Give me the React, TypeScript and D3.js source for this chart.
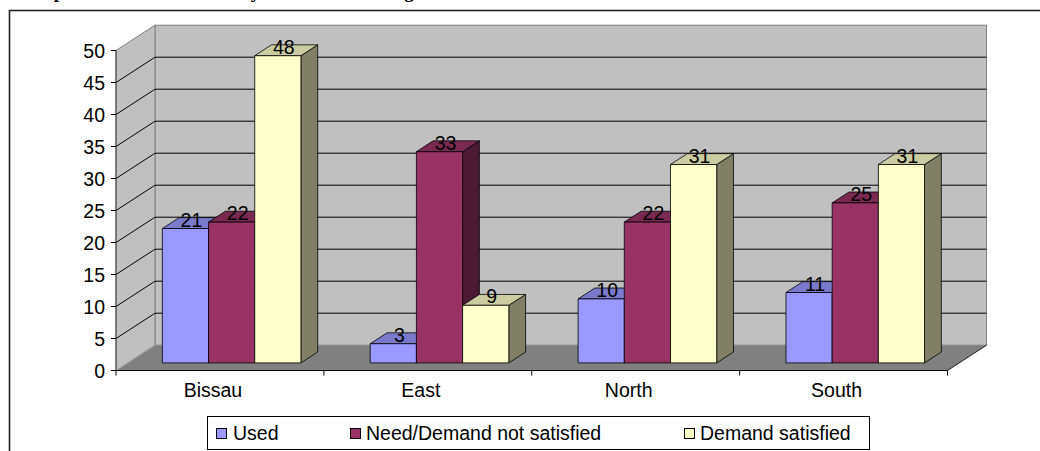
import React from "react";
import * as d3 from "d3";

// Chart data
const categories = ["Bissau", "East", "North", "South"];
const seriesNames = ["Used", "Need/Demand not satisfied", "Demand satisfied"];
const usedValues = [21, 3, 10, 11];
const notSatisfiedValues = [22, 33, 22, 25];
const satisfiedValues = [48, 9, 31, 31];
const seriesColors = ["#9999FF", "#993366", "#FFFFCC"];
const yTicks = [0, 5, 10, 15, 20, 25, 30, 35, 40, 45, 50];
const titleText = "Graph 4: Demand and use by administrative region";

const W = 1040;
const H = 451;

// Front plane of the 3D plot and the depth vector of the box
const X0 = 116;
const X1 = 947.5;
const Y0 = 370.5;
const YTOP = 50.5;
const DX = 39;
const DY = 25.3;
// Bars sit between these depth fractions of the box
const D0 = 0.3;
const BD = 0.43;

const FONT = "'Liberation Sans', Arial, sans-serif";

function shade(c: string, k: number): string {
  const rgb = d3.rgb(c);
  return d3.rgb(rgb.r * k, rgb.g * k, rgb.b * k).formatHex();
}

export default function App() {
  const seriesValues = [usedValues, notSatisfiedValues, satisfiedValues];

  const x = d3.scaleBand<string>().domain(categories).range([X0, X1]).paddingInner(0).paddingOuter(0);
  const inner = d3
    .scaleBand<string>()
    .domain(seriesNames)
    .range([0, x.bandwidth()])
    .paddingInner(0)
    .paddingOuter(0.75);
  const y = d3.scaleLinear().domain([0, 50]).range([Y0, YTOP]);

  const bdx = BD * DX;
  const bdy = BD * DY;
  const offX = D0 * DX;
  const offY = D0 * DY;

  const pts = (p: number[][]) => p.map((q) => q.join(",")).join(" ");

  const backLeft = X0 + DX;
  const backRight = X1 + DX;
  const backTop = y(50) - DY;
  const backBottom = y(0) - DY;

  const bars: React.ReactNode[] = [];
  const labels: React.ReactNode[] = [];
  categories.forEach((cat, ci) => {
    seriesNames.forEach((s, si) => {
      const v = seriesValues[si][ci];
      const color = seriesColors[si];
      const fx = (x(cat) as number) + (inner(s) as number) + offX;
      const fw = inner.bandwidth();
      const base = y(0) - offY;
      const top = y(v) - offY;
      bars.push(
        <g key={`${cat}-${s}`} stroke="#000" strokeWidth={0.8} strokeLinejoin="round">
          <polygon
            points={pts([
              [fx + fw, top],
              [fx + fw + bdx, top - bdy],
              [fx + fw + bdx, base - bdy],
              [fx + fw, base],
            ])}
            fill={shade(color, 0.5)}
          />
          <polygon
            points={pts([
              [fx, top],
              [fx + fw, top],
              [fx + fw + bdx, top - bdy],
              [fx + bdx, top - bdy],
            ])}
            fill={shade(color, 0.8)}
          />
          <rect x={fx} y={top} width={fw} height={base - top} fill={color} />
        </g>
      );
      labels.push(
        <text
          key={`lbl-${cat}-${s}`}
          x={fx + fw / 2 + 6}
          y={top - 2}
          textAnchor="middle"
          fontFamily={FONT}
          fontSize={19.5}
          fill="#000"
        >
          {v}
        </text>
      );
    });
  });

  const legendItems = [
    { x: 216, tx: 233 },
    { x: 350, tx: 366 },
    { x: 684, tx: 700 },
  ];

  return (
    <div style={{ position: "absolute", left: 0, top: 0 }}>
      <svg width={W} height={H} viewBox={`0 0 ${W} ${H}`} style={{ display: "block", background: "#fff" }}>
        {/* Title, mostly above the page edge */}
        <text x={21} y={-2.5} fontFamily="'Liberation Serif', 'Times New Roman', serif" fontWeight="bold" fontSize={19} fill="#000">
          {titleText}
        </text>

        {/* Outer frame */}
        <rect x={9.5} y={10.5} width={1100} height={600} fill="none" stroke="#222" strokeWidth={1.6} />

        {/* Back wall */}
        <rect
          x={backLeft}
          y={backTop}
          width={backRight - backLeft}
          height={backBottom - backTop}
          fill="#C0C0C0"
          stroke="#808080"
          strokeWidth={1}
        />
        {/* Side wall */}
        <polygon
          points={pts([
            [X0, y(50)],
            [backLeft, backTop],
            [backLeft, backBottom],
            [X0, y(0)],
          ])}
          fill="#C0C0C0"
          stroke="#808080"
          strokeWidth={1}
        />
        {/* Floor */}
        <polygon
          points={pts([
            [X0, y(0)],
            [X1, y(0)],
            [backRight, backBottom],
            [backLeft, backBottom],
          ])}
          fill="#808080"
        />
        <line x1={X0} y1={y(0)} x2={backLeft} y2={backBottom} stroke="#A8A8A8" strokeWidth={1} />
        <line x1={X1} y1={y(0)} x2={backRight} y2={backBottom} stroke="#222" strokeWidth={1} />

        {/* Gridlines on back and side walls */}
        {yTicks
          .filter((t) => t > 0 && t < 50)
          .map((t) => (
            <g key={`grid-${t}`} stroke="#000" strokeWidth={1}>
              <line x1={backLeft} x2={backRight} y1={y(t) - DY} y2={y(t) - DY} />
              <line x1={X0} y1={y(t)} x2={backLeft} y2={y(t) - DY} />
            </g>
          ))}

        {/* Value axis */}
        <line x1={X0} x2={X0} y1={y(50)} y2={y(0)} stroke="#404040" strokeWidth={1} />
        {yTicks.map((t) => (
          <g key={`yt-${t}`}>
            <line x1={X0 - 5} x2={X0} y1={y(t)} y2={y(t)} stroke="#000" strokeWidth={1} />
            <text
              x={105}
              y={y(t)}
              dy="0.36em"
              textAnchor="end"
              fontFamily={FONT}
              fontSize={19.5}
              fill="#000"
            >
              {t}
            </text>
          </g>
        ))}

        {/* Category axis */}
        <line x1={X0} x2={X1} y1={y(0)} y2={y(0)} stroke="#000" strokeWidth={1.2} />
        {[...categories.map((c) => x(c) as number), X1].map((tx, i) => (
          <line key={`xt-${i}`} x1={tx} x2={tx} y1={y(0)} y2={y(0) + 5} stroke="#000" strokeWidth={1} />
        ))}
        {categories.map((c) => (
          <text
            key={`xl-${c}`}
            x={(x(c) as number) + x.bandwidth() / 2 - 7}
            y={397}
            textAnchor="middle"
            fontFamily={FONT}
            fontSize={19.5}
            fill="#000"
          >
            {c}
          </text>
        ))}

        {/* Bars */}
        {bars}
        {labels}

        {/* Legend */}
        <rect x={207.5} y={416.5} width={662} height={33} fill="#fff" stroke="#000" strokeWidth={1} />
        {seriesNames.map((s, i) => (
          <g key={`lg-${s}`}>
            <rect
              x={legendItems[i].x + 0.5}
              y={428.5}
              width={10}
              height={10}
              fill={seriesColors[i]}
              stroke="#000"
              strokeWidth={1}
            />
            <text x={legendItems[i].tx} y={440} fontFamily={FONT} fontSize={19.5} fill="#000">
              {s}
            </text>
          </g>
        ))}
      </svg>
    </div>
  );
}
